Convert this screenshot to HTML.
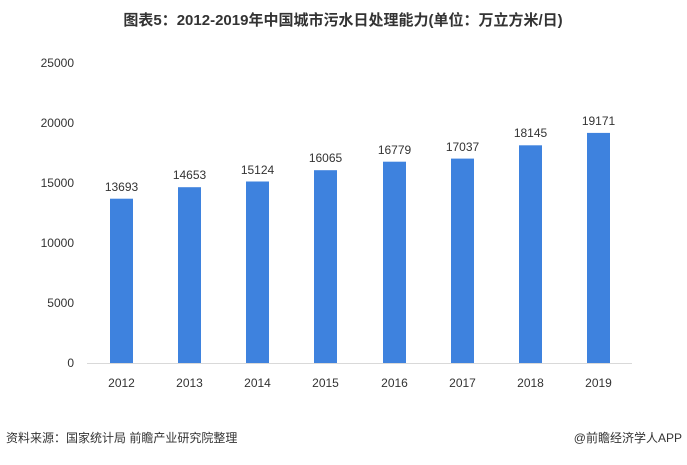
<!DOCTYPE html>
<html><head><meta charset="utf-8"><style>
body{margin:0;background:#fff;width:687px;height:460px;overflow:hidden;font-family:"Liberation Sans","Noto Sans CJK SC",sans-serif;}
</style></head><body>
<svg width="687" height="460" xmlns="http://www.w3.org/2000/svg" font-family="Liberation Sans, Noto Sans CJK SC, sans-serif">
<text x="343" y="25" text-anchor="middle" font-size="15" font-weight="bold" fill="#333">图表5：2012-2019年中国城市污水日处理能力(单位：万立方米/日)</text>
<g font-size="12" fill="#333" text-anchor="end">
<text x="74" y="367">0</text>
<text x="74" y="307">5000</text>
<text x="74" y="247">10000</text>
<text x="74" y="187">15000</text>
<text x="74" y="127">20000</text>
<text x="74" y="67">25000</text>
</g>
<line x1="87" y1="363.5" x2="632" y2="363.5" stroke="#d9d9d9" stroke-width="1"/>
<g fill="#3e82de">
<rect x="110" y="198.7" width="23" height="164.3"/>
<rect x="178" y="187.2" width="23" height="175.8"/>
<rect x="246" y="181.5" width="23" height="181.5"/>
<rect x="314" y="170.2" width="23" height="192.8"/>
<rect x="383" y="161.7" width="23" height="201.3"/>
<rect x="451" y="158.6" width="23" height="204.4"/>
<rect x="519" y="145.3" width="23" height="217.7"/>
<rect x="587" y="132.9" width="23" height="230.1"/>
</g>
<g font-size="12" fill="#333" text-anchor="middle">
<text x="121.5" y="191">13693</text>
<text x="189.5" y="179">14653</text>
<text x="257.5" y="174">15124</text>
<text x="325.5" y="162">16065</text>
<text x="394.5" y="154">16779</text>
<text x="462.5" y="151">17037</text>
<text x="530.5" y="137">18145</text>
<text x="598.5" y="125">19171</text>
<text x="121.5" y="387">2012</text>
<text x="189.5" y="387">2013</text>
<text x="257.5" y="387">2014</text>
<text x="325.5" y="387">2015</text>
<text x="394.5" y="387">2016</text>
<text x="462.5" y="387">2017</text>
<text x="530.5" y="387">2018</text>
<text x="598.5" y="387">2019</text>
</g>
<text x="6" y="442" font-size="12" fill="#333">资料来源：国家统计局 前瞻产业研究院整理</text>
<text x="682" y="442" font-size="12" fill="#333" text-anchor="end">@前瞻经济学人APP</text>
</svg>
</body></html>
